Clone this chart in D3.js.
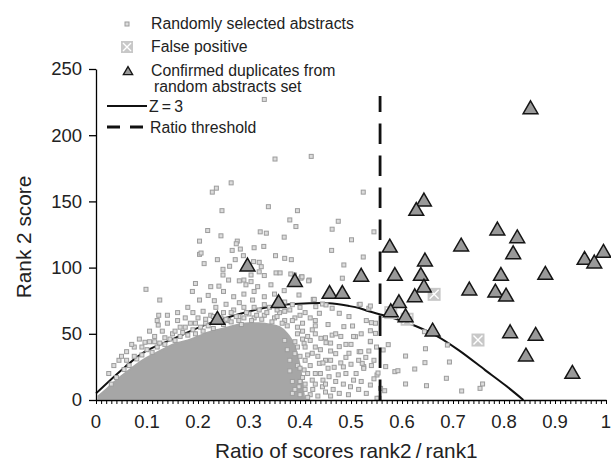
<!DOCTYPE html>
<html>
<head>
<meta charset="utf-8">
<script src="https://cdn.jsdelivr.net/npm/d3@7"></script>
<style>
  body { margin: 0; background: #fff; }
  svg { display: block; font-family: "Liberation Sans", Arial, sans-serif; }
</style>
</head>
<body>
<div id="chart"></div>
<script>
"use strict";

/* Values: [ratio rank2/rank1, rank 2 score] */

// scattered random abstracts (outside the solid grey core)
const randomAbstracts = [
  [.33,227],[.351,182],[.422,184],[.265,164],[.236,160],[.228,157],[.524,157],[.247,143],
  [.338,146],[.395,143],[.380,136],[.475,135],[.392,131],[.463,129],[.219,128],[.322,127],
  [.334,126],[.245,124],[.369,123],[.501,121],[.203,120],[.277,120],[.275,118],[.329,116],
  [.31,115],[.267,113],[.283,114],[.462,113],[.203,110],[.289,109],[.524,108],[.238,106],
  [.273,106],[.212,103],[.370,107],[.383,106],[.486,102],[.32,104],[.545,127],[.352,109],
  [.309,104.5],[.206,111],
  [.249,98.7],[.262,101],[.324,100.7],[.353,96],[.361,96],[.249,94.4],[.304,94.4],[.33,94],
  [.403,93],[.483,92],[.098,83.6],[.195,88],[.189,82],[.225,85.6],[.241,86],[.26,90.6],
  [.281,90],[.294,87],[.317,85.6],[.343,87],[.125,75.5],[.123,64],[.203,75.5],[.232,75],
  [.255,72.3],[.281,73.5],[.307,75.5],[.426,76],[.444,72.5],[.516,72],[.389,94.4],[.402,92],
  [.418,90.6],[.398,79.3],[.369,82.6],[.428,76],[.518,72.3],[.535,69.3],[.431,70.5],[.451,71.8],
  [.463,69.3],[.438,65.5],[.477,65.5],[.496,63],[.32,96.8],[.29,90.6],[.304,89.4],[.382,95.2],
  [.417,90],[.404,93],
  [.06,36.5],[.075,40],[.096,43.6],[.105,44],[.115,48],[.122,56.6],[.13,52],[.14,58],
  [.15,50],[.16,60],[.165,55],[.175,62],[.185,58],[.19,66],[.2,62],[.21,67],[.215,58],
  [.225,64],[.235,70],[.245,62],[.25,66],[.26,60],[.27,68],[.28,63],[.29,70],[.3,65],
  [.31,62],[.32,68],[.33,64],[.34,70],[.35,62],[.36,66],[.37,60],[.38,68],[.39,62],[.40,64],
  [.27,78],[.29,80],[.25,82],[.22,79],[.33,78],[.35,80],[.37,74],[.31,82],[.18,70],[.16,66],
  [.14,64],[.12,60],[.105,52],[.085,46],[.07,42],[.045,30],[.035,26],[.025,20],[.05,33],
  [.03,12],[.04,17],[.055,23],[.065,26],[.08,31],[.09,34],[.1,38],[.11,36],[.12,40],
  [.125,43],[.135,42],[.145,46],[.155,45],[.165,48],[.17,51],[.18,49],[.19,53],[.195,50],
  [.205,55],[.21,52],[.22,56],[.23,54],[.24,59],[.25,57],[.255,61],[.265,59],[.275,63],
  [.28,60],[.29,62],[.295,66],[.305,60],[.315,64],[.325,61],[.335,66],[.345,59],[.355,63],
  [.365,58],[.375,56],[.385,60],[.395,55],[.135,47],[.175,55],[.215,61],[.265,66],[.285,57],
  [.23,63],[.195,58],[.155,52],[.115,44],[.075,33],[.31,70],[.33,72],[.355,68],[.37,67],
  [.385,72],[.4,70],[.41,66],[.42,62],[.43,56],[.06,30],[.09,40],
  [.405,58],[.424,53],[.441,46.6],[.408,42.8],[.424,35.3],[.438,27.7],[.408,22.7],[.424,15],
  [.444,10],[.398,10],[.385,5],[.477,5],[.457,17.6],[.467,24.7],[.49,32.2],[.496,35.3],
  [.516,36.5],[.477,40.3],[.451,43.3],[.463,49],[.486,55.4],[.503,55.9],[.509,47.8],[.538,44],
  [.525,25.2],[.499,10],[.538,11.3],[.555,1.3],[.551,18.9],[.519,36.5],[.529,32.2],[.522,27.7],
  [.525,23.9],[.538,71],[.54,58.4],[.548,58],[.538,52.3],[.548,50.3],[.538,44.3],[.415,48],
  [.43,40],[.45,30],[.46,37],[.47,14],[.48,28],[.49,20],[.505,15],[.515,8],[.52,50],[.53,60],
  [.545,30],[.41,30],[.42,4],[.44,20],[.46,3],[.5,42],[.39,35],[.395,50],[.43,60],[.455,57],
  [.47,50],[.40,14],[.41,8],[.395,26],[.405,46],[.415,20],[.43,12],[.435,33],[.45,6],[.455,24],
  [.37,45],[.375,38],[.38,30],[.38,22],[.385,14],[.39,44],[.39,8],[.395,40],[.4,33],[.4,24],
  [.4,4],[.405,52],[.405,17],[.41,40],[.41,12],[.415,34],[.415,2],[.42,26],[.42,45],[.425,8],
  [.43,50],[.43,20],[.435,3],[.44,38],[.445,28],[.445,15],[.45,47],[.45,12],[.46,43],[.46,30],
  [.465,8],[.47,35],[.475,19],[.48,48],[.485,12],[.485,25],[.49,42],[.495,4],[.5,27],[.505,48],
  [.51,20],[.515,30],[.52,14],[.53,5],[.535,37],[.545,16],[.55,40],[.54,26],
  [.563,37.8],[.573,41.8],[.646,38.7],[.607,33.2],[.645,28.2],[.693,28.7],[.568,25.2],[.625,23.4],
  [.586,21.4],[.592,22.1],[.553,20.4],[.687,16.4],[.607,12.1],[.648,10.8],[.558,8.8],[.566,7],
  [.717,6.8],[.753,8.8],[.758,12.1],[.644,51.6],[.689,41.5],[.551,1.3]
];

// upper edge of the solid grey core of random abstracts
const coreTop = [
  [0.005,3],[0.02,8],[0.04,15],[0.06,21],[0.08,27],[0.10,32],[0.12,36],[0.14,40],
  [0.16,43],[0.18,45],[0.20,48],[0.22,51],[0.24,53],[0.26,55],[0.28,57],[0.30,58],
  [0.32,58],[0.34,57],[0.36,55],[0.375,50],[0.39,40],[0.40,25],[0.408,2]
];
const coreBottom = 1;

const falsePositives = [[.578,66],[.61,61],[.663,79.8],[.749,45.3]];

const duplicates = [
  [.238,60.4],[.297,100.7],[.358,73],[.39,89],[.458,80],[.483,80],[.52,93],
  [.852,219.5],[.643,149.8],[.628,142.7],[.787,127.9],[.826,122],[.576,115],[.716,115.8],
  [.818,110],[.645,104.5],[.958,105.7],[.977,103],[.995,111],[.586,93.6],[.637,93.6],
  [.794,93.6],[.881,94.4],[.643,84.8],[.625,77.5],[.732,82.6],[.783,81],[.804,78],
  [.594,73],[.578,66.2],[.607,62.4],[.66,51.6],[.812,50.3],[.862,48.3],[.843,32.7],[.934,19.6]
];

const z3Curve = [
  [0,5],[.057,25],[.096,36.5],[.154,46.6],[.213,56.6],[.285,65.4],[.35,71],[.418,73],
  [.457,73],[.496,71],[.516,69.5],[.535,67],[.564,64],[.613,58],[.665,49],[.711,37.7],
  [.763,22.6],[.802,11.3],[.838,0]
];

const thresholdRatio = 0.557;
const thresholdTop = 229.6;

const xTicks = [0, .1, .2, .3, .4, .5, .6, .7, .8, .9, 1];
const xTickLabels = ["0", "0.1", "0.2", "0.3", "0.4", "0.5", "0.6", "0.7", "0.8", "0.9", "1"];
const yTicks = [0, 50, 100, 150, 200, 250];

/* scales */
const width = 611, height = 462;
const x = d3.scaleLinear().domain([0, 1]).range([96, 606]);
const y = d3.scaleLinear().domain([0, 250]).range([400, 69]);

const svg = d3.select("#chart").append("svg")
  .attr("width", width)
  .attr("height", height);

const grey = "#a6a6a6";

// solid core
svg.append("path")
  .datum(coreTop)
  .attr("d", d3.area()
    .x(d => x(d[0]))
    .y0(y(coreBottom))
    .y1(d => y(d[1]))
    .curve(d3.curveMonotoneX))
  .attr("fill", grey)
  .attr("stroke", grey)
  .attr("stroke-width", 2);

// Z = 3 curve
svg.append("path")
  .datum(z3Curve)
  .attr("d", d3.line().x(d => x(d[0])).y(d => y(d[1])).curve(d3.curveCatmullRom))
  .attr("fill", "none")
  .attr("stroke", "#111")
  .attr("stroke-width", 2);

// scattered abstracts
svg.append("g").selectAll("rect")
  .data(randomAbstracts)
  .enter()
  .append("rect")
  .attr("x", d => x(d[0]) - 2)
  .attr("y", d => y(d[1]) - 2)
  .attr("width", 4)
  .attr("height", 4)
  .attr("fill", "#dcdcdc")
  .attr("stroke", "#9c9c9c")
  .attr("stroke-width", 1);

// ratio threshold, drawn bottom-up so dashes start at the axis
svg.append("line")
  .attr("x1", x(thresholdRatio)).attr("x2", x(thresholdRatio))
  .attr("y1", y(0)).attr("y2", y(thresholdTop))
  .attr("stroke", "#111")
  .attr("stroke-width", 2.8)
  .attr("stroke-dasharray", "20.5,11.5");

function falsePositive(g, s) {
  g.append("rect")
    .attr("x", -s / 2).attr("y", -s / 2)
    .attr("width", s).attr("height", s)
    .attr("fill", "#c8c8c8");
  g.append("path")
    .attr("d", `M${-s / 2 + 2},${-s / 2 + 2}L${s / 2 - 2},${s / 2 - 2}M${s / 2 - 2},${-s / 2 + 2}L${-s / 2 + 2},${s / 2 - 2}`)
    .attr("stroke", "#fff")
    .attr("stroke-width", 1.4);
}

svg.append("g").selectAll("g")
  .data(falsePositives)
  .enter()
  .append("g")
  .attr("transform", d => `translate(${x(d[0])},${y(d[1])})`)
  .each(function () { falsePositive(d3.select(this), 13); });

const tri = d3.symbol().type(d3.symbolTriangle);

svg.append("g").selectAll("path")
  .data(duplicates)
  .enter()
  .append("path")
  .attr("d", tri.size(95)())
  .attr("transform", d => `translate(${x(d[0])},${y(d[1])})`)
  .attr("fill", "#999")
  .attr("stroke", "#151515")
  .attr("stroke-width", 1.5)
  .attr("stroke-linejoin", "miter");

/* axes */
const yAxis = svg.append("g")
  .attr("transform", `translate(${x(0)},0)`)
  .call(d3.axisLeft(y).tickValues(yTicks).tickSize(7).tickPadding(7).tickSizeOuter(0));
yAxis.select(".domain").attr("stroke-width", 1.3);
yAxis.selectAll(".tick line").attr("stroke-width", 1.3);
yAxis.selectAll("text")
  .attr("font-size", 18.5)
  .attr("fill", "#222")
  .attr("font-family", "Liberation Sans, Arial, sans-serif");

const xAxis = svg.append("g")
  .attr("transform", `translate(0,${y(0)})`)
  .call(d3.axisBottom(x).ticks(100).tickSize(4).tickFormat("").tickSizeOuter(0));
xAxis.select(".domain").attr("stroke-width", 1.3);
xAxis.selectAll(".tick line").attr("stroke-width", 1);

svg.append("g").selectAll("text")
  .data(xTicks)
  .enter()
  .append("text")
  .attr("x", d => x(d))
  .attr("y", 428)
  .attr("text-anchor", "middle")
  .attr("font-size", 18.5)
  .attr("fill", "#222")
  .text((d, i) => xTickLabels[i]);

svg.append("text")
  .attr("x", 215)
  .attr("y", 457.5)
  .attr("font-size", 20.8)
  .attr("fill", "#222")
  .text("Ratio of scores rank2\u2009/\u2009rank1");

svg.append("text")
  .attr("transform", "translate(31,237) rotate(-90)")
  .attr("text-anchor", "middle")
  .attr("font-size", 20.8)
  .attr("fill", "#222")
  .text("Rank 2 score");

/* legend */
const legend = svg.append("g").attr("font-size", 15.8).attr("fill", "#222");

legend.append("rect")
  .attr("x", 125).attr("y", 22).attr("width", 4).attr("height", 4)
  .attr("fill", "#dcdcdc").attr("stroke", "#9c9c9c");
legend.append("text").attr("x", 151).attr("y", 29).text("Randomly selected abstracts");

falsePositive(legend.append("g").attr("transform", "translate(127,47)"), 12);
legend.append("text").attr("x", 151).attr("y", 52).text("False positive");

legend.append("path")
  .attr("d", tri.size(38)())
  .attr("transform", "translate(128,72)")
  .attr("fill", "#999")
  .attr("stroke", "#151515")
  .attr("stroke-width", 1.3);
legend.append("text").attr("x", 151).attr("y", 76).text("Confirmed duplicates from");
legend.append("text").attr("x", 154).attr("y", 92).text("random abstracts set");

legend.append("line")
  .attr("x1", 107).attr("x2", 147).attr("y1", 106).attr("y2", 106)
  .attr("stroke", "#111").attr("stroke-width", 2);
legend.append("text").attr("x", 149).attr("y", 111.5).text("Z\u2009=\u20093");

legend.append("line")
  .attr("x1", 107).attr("x2", 145).attr("y1", 127).attr("y2", 127)
  .attr("stroke", "#111").attr("stroke-width", 2.8)
  .attr("stroke-dasharray", "13,10");
legend.append("text").attr("x", 150).attr("y", 132.5).text("Ratio threshold");
</script>
</body>
</html>
